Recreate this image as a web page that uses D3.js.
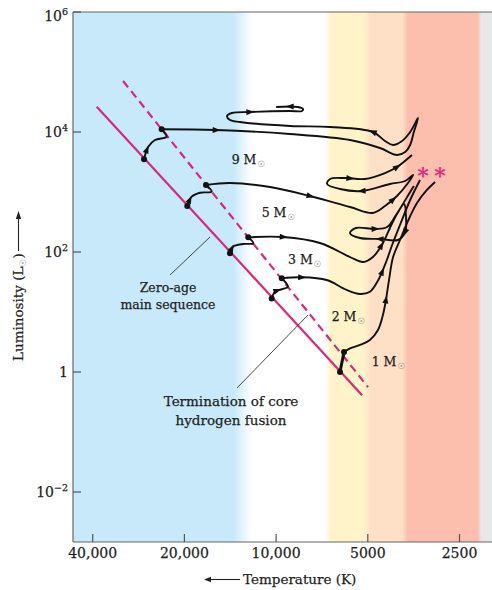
<!DOCTYPE html>
<html><head><meta charset="utf-8">
<script src="https://cdn.jsdelivr.net/npm/d3@7"></script>
<style>
body{margin:0;background:#fff}
text{font-family:"DejaVu Serif",serif;fill:#1e1e1e;stroke:#1e1e1e;stroke-width:0.25px}
</style>
</head><body>
<svg id="c" width="492" height="590"></svg>
<script>
// ---------- data ----------
const xTicks=[40000,20000,10000,5000,2500];
const xTickLabels=["40,000","20,000","10,000","5000","2500"];
const yTicks=[1e6,1e4,1e2,1,1e-2];
const yTickExp=["6","4","2",null,"\u22122"];

// zero-age main sequence and termination of core hydrogen fusion  [T (K), L (Lsun)]
const zams=[[38800,26400],[5220,0.41]];
const tams=[[31800,70800],[4990,0.56]];

const masses=["9","5","3","2","1"];
// main-sequence segments (ZAMS -> end of core H fusion)
const hook9=[[27140,3508],[26280,5690],[24975,7360],[22865,8350],[23745,11090]];
const hook5=[[19570,584],[18930,835],[17780,973],[16270,1012],[16990,1309]];
const hook3=[[14170,95.1],[13850,122.5],[12840,136],[11880,139.6],[12340,175.8]];
const hook2=[[10340,16.8],[10080,21.8],[9490,24.2],[9140,26.4],[9585,36.5]];
const hook1=[[6170,1.0],[5985,2.15]];
// post-main-sequence tracks
const post9=[[23745,11090],[15750,10800],[9000,9260],[5720,7360],[4560,5410],[4010,4140],[3770,4640],[3630,6070],[3530,10000],[3420,17110],[3630,10000],[3860,7080],[4130,6070],[4390,7080],[4810,10000],[6650,12120],[9000,12590],[13140,14680],[14170,15850],[14490,18480],[13960,20730],[12180,21540],[9000,22390],[8220,22390],[8160,24170],[8480,26100],[10000,26100]];
const post5=[[16990,1309],[14170,1413],[10470,1212],[7740,858],[5720,562],[4810,447],[4390,584],[4010,858],[3690,1413],[3550,1920],[3770,1525],[4230,1360],[5220,1039],[6170,1122],[6800,1360],[6650,1650],[5940,1710],[5110,1650],[4390,2070],[4010,2610],[3580,4140]];
const post3=[[12340,175.8],[9490,177.8],[7180,141.3],[5720,82.5],[5180,68.1],[4810,82.5],[4460,141.3],[4230,251],[4010,430],[3800,631],[3745,369],[3770,215],[3980,158.5],[4560,165],[5300,171],[5720,207],[5470,251],[4735,242],[4320,261],[4040,414],[3630,1000],[3530,1259]];
const post2=[[9585,36.5],[8240,37.9],[6820,34.1],[5870,23.3],[5300,19.95],[4920,21.8],[4620,34.1],[4330,73.6],[4160,131],[3920,282],[3630,736],[3370,1585]];
const post1=[[5985,2.15],[5720,2.48],[5300,2.82],[4920,3.42],[4630,5.01],[4460,8.91],[4360,15.85],[4260,34.1],[4130,82.5],[3920,158.5],[3717,304],[3447,655],[3198,1080],[3007,1468]];

// direction arrows (anchor points on the tracks)
const arrows9=[[26330,5012],[15750,10800],[4810,10000],[12180,21540],[9000,26100]];
const arrows5=[[19170,736],[7740,858],[4160,764],[5220,1039],[5720,1710],[4010,2610]];
const arrows3=[[13850,112],[9490,178],[4490,126],[3770,215],[4560,165],[4735,242]];
const arrows2=[[9955,23.3],[8240,37.9],[4460,46.4]];
const arrows1=[[4360,15.85]];

// helium flash markers
const heFlash=[[3296,2073],[2896,2073]];

// label anchors
const massLabelPos=[[13990,2930],[11150,387],[9140,63.1],[6570,7.16],[4855,1.259]];
const zamsLabelPos=[22640,21.8];
const zamsLeader=[[22300,41.4],[16480,177.8]];
const tamsLabelPos=[14060,0.271];
const tamsLeader=[[13440,0.541],[7860,8.91]];

// spectral background bands (temperature stops)
const bandTemps=[46400,13850,12000,6900,6600,5150,4900,3850,3700,2180,2120,1900];
const bandColors=["#c7e9f9","#c7e9f9","#ffffff","#ffffff","#fff3ca","#fff3ca","#fde0c6","#fde0c6","#fcbfad","#fcbfad","#e8e8e8","#e8e8e8"];

// ---------- layout ----------
const L=73,R=492,T=12,B=542;
const x=d3.scaleLog().domain([40000,2500]).range([92.7,459.5]);
const y=d3.scaleLog().domain([1e-2,1e6]).range([492,12]);
const svg=d3.select("#c");
const defs=svg.append("defs");

const grad=defs.append("linearGradient").attr("id","bands")
  .attr("gradientUnits","userSpaceOnUse").attr("x1",L).attr("x2",R).attr("y1",0).attr("y2",0);
bandTemps.forEach((t,i)=>{
  const off=Math.max(0,Math.min(1,(x(t)-L)/(R-L)));
  grad.append("stop").attr("offset",off).attr("stop-color",bandColors[i]);
});
svg.append("rect").attr("x",L).attr("y",T).attr("width",R-L).attr("height",B-T).attr("fill","url(#bands)");

// frame
const frame=svg.append("g").attr("stroke","#666").attr("stroke-width",1.2);
frame.append("line").attr("x1",L).attr("x2",R).attr("y1",T).attr("y2",T);
frame.append("line").attr("x1",L).attr("x2",L).attr("y1",T).attr("y2",B);
frame.append("line").attr("x1",L).attr("x2",R).attr("y1",B).attr("y2",B);

// x ticks
xTicks.forEach((t,i)=>{
  svg.append("line").attr("x1",x(t)).attr("x2",x(t)).attr("y1",B).attr("y2",B-8).attr("stroke","#555").attr("stroke-width",1.2);
  svg.append("text").attr("x",x(t)).attr("y",558).attr("text-anchor","middle").attr("font-size",14).text(xTickLabels[i]);
});
// y ticks
yTicks.forEach((v,i)=>{
  const yy=y(v);
  svg.append("line").attr("x1",L).attr("x2",L+8).attr("y1",yy).attr("y2",yy).attr("stroke","#555").attr("stroke-width",1.2);
  const ly=Math.max(yy,16)+5;
  const t=svg.append("text").attr("y",ly).attr("font-size",14).attr("text-anchor","end");
  if(yTickExp[i]===null){ t.attr("x",68).text("1"); }
  else{
    t.attr("x",68);
    t.append("tspan").text("10");
    t.append("tspan").attr("font-size",9.5).attr("dy",-6).text(yTickExp[i]);
  }
});

// axis titles
svg.append("text").attr("x",243).attr("y",584).attr("font-size",13.5).text("Temperature (K)");
svg.append("line").attr("x1",240).attr("x2",209).attr("y1",579.5).attr("y2",579.5).attr("stroke","#222").attr("stroke-width",1.1);
svg.append("path").attr("d","M204,579.5 L211,576.8 L211,582.2 Z").attr("fill","#222");

const yt=svg.append("text").attr("transform","translate(23,361) rotate(-90)").attr("font-size",13.5);
yt.append("tspan").text("Luminosity (L");
yt.append("tspan").attr("font-size",8.5).attr("dy",3).style("fill","#777").style("stroke","none").text("\u2609");
yt.append("tspan").attr("dy",-3).text(")");
svg.append("line").attr("x1",18.5).attr("x2",18.5).attr("y1",251).attr("y2",217).attr("stroke","#222").attr("stroke-width",1.1);
svg.append("path").attr("d","M18.5,211 L15.8,219 L21.2,219 Z").attr("fill","#222");

// ZAMS and TAMS lines
const ln=d3.line().x(d=>x(d[0])).y(d=>y(d[1]));
svg.append("path").attr("d",ln(zams)).attr("stroke","#d42a7a").attr("stroke-width",2.2).attr("fill","none");
svg.append("path").attr("d",ln(tams)).attr("stroke","#d42a7a").attr("stroke-width",2.2).attr("fill","none").attr("stroke-dasharray","8,5");

// leaders
svg.append("path").attr("d",ln(zamsLeader)).attr("stroke","#333").attr("stroke-width",0.9).attr("fill","none");
svg.append("path").attr("d",ln(tamsLeader)).attr("stroke","#333").attr("stroke-width",0.9).attr("fill","none");

// tracks
const cl=d3.line().x(d=>x(d[0])).y(d=>y(d[1])).curve(d3.curveCatmullRom.alpha(0.5));
const hooks=[hook9,hook5,hook3,hook2,hook1];
const posts=[post9,post5,post3,post2,post1];
const arrows=[arrows9,arrows5,arrows3,arrows2,arrows1];
const tg=svg.append("g");
hooks.forEach((h,i)=>{
  const hp=tg.append("path").attr("d",cl(h)).attr("stroke","#111").attr("stroke-width",i===4?3:1.9).attr("fill","none");
  const pp=tg.append("path").attr("d",cl(posts[i])).attr("stroke","#111").attr("stroke-width",1.9).attr("fill","none").attr("stroke-linejoin","round");
  const paths=[hp.node(),pp.node()];
  arrows[i].forEach(a=>{
    const ax=x(a[0]),ay=y(a[1]);
    let best=null,bd=1e9;
    paths.forEach(p=>{
      const tl=p.getTotalLength();
      for(let l=0;l<=tl;l+=0.5){
        const q=p.getPointAtLength(l);
        const dd=(q.x-ax)**2+(q.y-ay)**2;
        if(dd<bd){bd=dd;best={p,l,tl};}
      }
    });
    const p=best.p, l=best.l;
    const q0=p.getPointAtLength(Math.max(0,l-1.5)), q1=p.getPointAtLength(Math.min(best.tl,l+1.5));
    let dx=q1.x-q0.x, dy=q1.y-q0.y; const n=Math.hypot(dx,dy)||1; dx/=n; dy/=n;
    const c=p.getPointAtLength(l);
    const tip=[c.x+dx*4.5,c.y+dy*4.5], b=[c.x-dx*3.5,c.y-dy*3.5];
    const nx=-dy,ny=dx;
    tg.append("path").attr("d",`M${tip[0]},${tip[1]} L${b[0]+nx*3},${b[1]+ny*3} L${b[0]-nx*3},${b[1]-ny*3} Z`).attr("fill","#111");
  });
  [h[0],h[h.length-1]].forEach(d=>{
    tg.append("circle").attr("cx",x(d[0])).attr("cy",y(d[1])).attr("r",3).attr("fill","#111");
  });
});

// helium flash asterisks
heFlash.forEach(d=>{
  svg.append("text").attr("x",x(d[0])).attr("y",y(d[1])+10).attr("text-anchor","middle")
    .attr("font-family","DejaVu Sans").attr("font-size",22).attr("font-weight","bold")
    .style("fill","#e0287e").style("stroke","none").text("*");
});

// mass labels
masses.forEach((m,i)=>{
  const p=massLabelPos[i];
  const t=svg.append("text").attr("x",x(p[0])).attr("y",y(p[1])).attr("font-size",12.5);
  t.append("tspan").text(m+" M");
  t.append("tspan").attr("font-size",8.5).attr("dy",3).attr("dx",1).style("fill","#888").style("stroke","none").attr("font-family","DejaVu Sans").text("\u2609");
});

// annotations
const zl=svg.append("text").attr("text-anchor","middle").attr("font-size",12.5);
zl.append("tspan").attr("x",x(zamsLabelPos[0])).attr("y",y(zamsLabelPos[1])).text("Zero-age");
zl.append("tspan").attr("x",x(zamsLabelPos[0])).attr("dy",17.5).text("main sequence");
const tl2=svg.append("text").attr("text-anchor","middle").attr("font-size",13.5);
tl2.append("tspan").attr("x",x(tamsLabelPos[0])).attr("y",y(tamsLabelPos[1])).text("Termination of core");
tl2.append("tspan").attr("x",x(tamsLabelPos[0])).attr("dy",18.5).text("hydrogen fusion");
</script>
</body></html>
